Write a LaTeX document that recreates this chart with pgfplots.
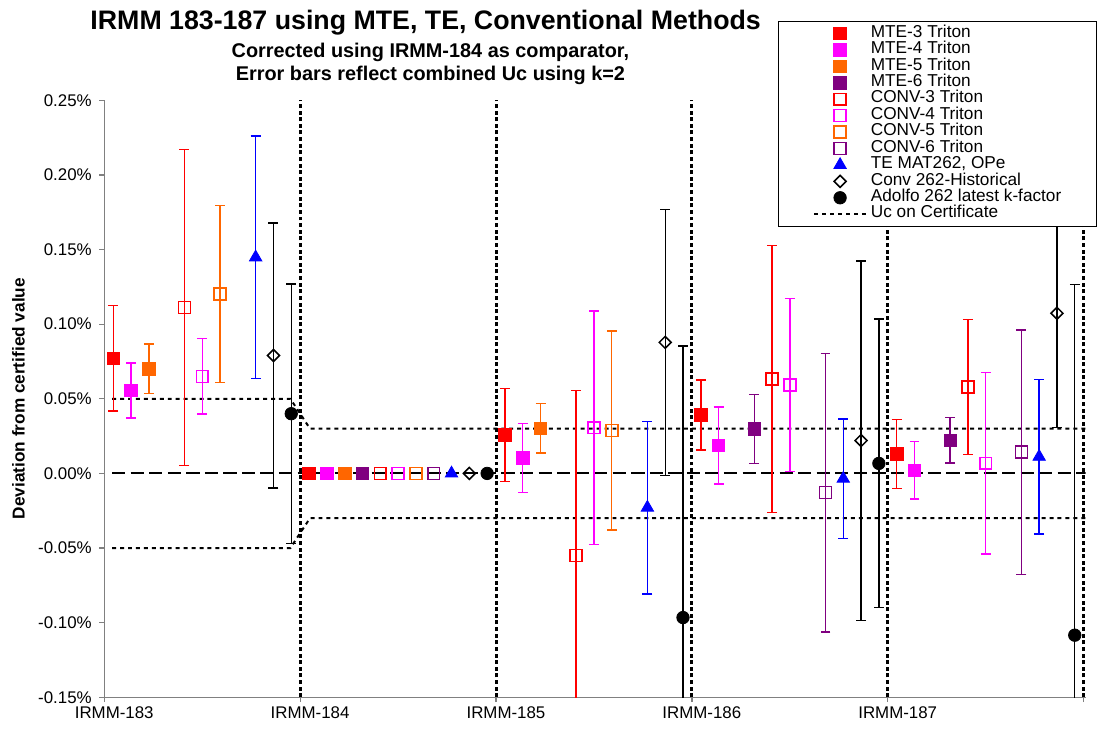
\documentclass[border=0pt]{standalone}
\usepackage{pgfplots}
\pgfplotsset{compat=1.18}
\usepackage{fontspec}
\setmainfont{Liberation Sans}
\definecolor{cMag}{RGB}{255,0,255}
\definecolor{cOr}{RGB}{255,102,0}
\definecolor{cPur}{RGB}{128,0,128}
\definecolor{cAx}{RGB}{128,128,128}
\pgfplotsset{
 eb/.style={error bars/y dir=both, error bars/y explicit,
   error bars/error bar style={line width=1.05pt},
   error bars/error mark options={rotate=90, mark size=3.75pt, line width=1.05pt}},
 fsq/.style={color=#1, only marks, mark=square*, mark size=4.7pt, line width=0.6pt, mark options={fill=#1, draw=#1, solid}},
 osq/.style={color=#1, only marks, mark=square, mark size=4.5pt, line width=1.15pt, mark options={draw=#1, solid}},
 tri/.style={color=blue, only marks, mark=triangle*, mark size=5.4pt, line width=0.6pt, mark options={fill=blue, solid}},
 dia/.style={color=black, only marks, mark=square, mark size=3.2pt, line width=1.15pt, mark options={rotate=45, solid, fill=white}},
 circ/.style={color=black, only marks, mark=*, mark size=4.7pt, line width=0.6pt, mark options={fill=black, solid}},
}
\begin{document}
\begin{tikzpicture}
\path (0pt,0pt) rectangle (823.5pt,552pt);
\begin{axis}[
  at={(78.75pt,25.5pt)}, anchor=south west,
  width=741pt, height=450.75pt, scale only axis,
  xmin=0, xmax=5.01, ymin=-0.15, ymax=0.25,
  axis x line=bottom, axis y line=left,
  axis line style={-, draw=cAx, line width=0.9pt},
  tick style={draw=cAx, line width=0.9pt},
  tick align=outside, major tick length=3.75pt,
  xtick={0,1,2,3,4,5},
  xticklabels={IRMM-183,IRMM-184,IRMM-185,IRMM-186,IRMM-187,{}},
  xticklabel style={xshift=7.5pt, font=\fontsize{12.75}{15}\selectfont},
  ytick={-0.15,-0.1,-0.05,0,0.05,0.1,0.15,0.2,0.25},
  yticklabel={\pgfmathprintnumber[fixed,fixed zerofill,precision=2]{\tick}\%},
  yticklabel style={xshift=-2.25pt, font=\fontsize{12.75}{15}\selectfont},
  /pgf/number format/assume math mode=true,
  legend style={at={(axis description cs:0.6862,1.1331)}, anchor=north west,
    draw=black, line width=0.75pt, fill=white,
    font=\fontsize{13}{15}\selectfont,
    inner xsep=26.5pt, inner ysep=3pt, row sep=0pt, column sep=3pt,
    nodes={inner sep=0pt, text height=9pt, text depth=3.4pt}},
  legend cell align=left,
  legend image code/.code={\draw[mark repeat=2,mark phase=2,#1] plot coordinates {(0pt,0pt) (19.5pt,0pt) (39pt,0pt)};},
]
% vertical separators
\addplot[forget plot, black, line width=2.2pt, dash pattern=on 3pt off 2pt] coordinates {(1,-0.15) (1,0.25)};
\addplot[forget plot, black, line width=2.2pt, dash pattern=on 3pt off 2pt] coordinates {(2,-0.15) (2,0.25)};
\addplot[forget plot, black, line width=2.2pt, dash pattern=on 3pt off 2pt] coordinates {(3,-0.15) (3,0.25)};
\addplot[forget plot, black, line width=2.2pt, dash pattern=on 3pt off 2pt] coordinates {(4,-0.15) (4,0.25)};
\addplot[forget plot, black, line width=2.2pt, dash pattern=on 3pt off 2pt] coordinates {(5,-0.15) (5,0.25)};
% zero line
\addplot[forget plot, black, line width=1.5pt, dash pattern=on 10pt off 4pt] coordinates {(0.04,0) (5.01,0)};
% Uc on certificate
\addplot[forget plot, black, line width=1.5pt, dash pattern=on 3pt off 3pt] coordinates {(0.04,0.05) (0.95,0.05) (1.05,0.03) (5.01,0.03)};
\addplot[forget plot, black, line width=1.5pt, dash pattern=on 3pt off 3pt] coordinates {(0.04,-0.05) (0.95,-0.05) (1.05,-0.03) (5.01,-0.03)};

% MTE-3
\addplot[fsq=red, eb] coordinates {(0.0455,0.0772) +- (0,0.0354) (2.0455,0.0257) +- (0,0.0310) (3.0455,0.0392) +- (0,0.0234) (4.0455,0.0130) +- (0,0.0232)};
\addlegendentry{MTE-3 Triton}
% MTE-4
\addplot[fsq=cMag, eb] coordinates {(0.1364,0.0555) +- (0,0.0184) (2.1364,0.0103) +- (0,0.0230) (3.1364,0.0186) +- (0,0.0258) (4.1364,0.0021) +- (0,0.0193)};
\addlegendentry{MTE-4 Triton}
% MTE-5
\addplot[fsq=cOr, eb] coordinates {(0.2273,0.0701) +- (0,0.0167) (2.2273,0.0303) +- (0,0.0165)};
\addlegendentry{MTE-5 Triton}
% MTE-6
\addplot[fsq=cPur, eb] coordinates {(3.3182,0.0297) +- (0,0.0232) (4.3182,0.0221) +- (0,0.0152)};
\addlegendentry{MTE-6 Triton}
% CONV-3
\addplot[osq=red, eb] coordinates {(0.4091,0.1111) +- (0,0.1060) (2.4091,-0.0549) +- (0,0.1105) (3.4091,0.0632) +- (0,0.0894) (4.4091,0.0580) +- (0,0.0452)};
\addlegendentry{CONV-3 Triton}
% CONV-4
\addplot[osq=cMag, eb] coordinates {(0.5,0.0650) +- (0,0.0253) (2.5,0.0306) +- (0,0.0782) (3.5,0.0592) +- (0,0.0579) (4.5,0.0068) +- (0,0.0608)};
\addlegendentry{CONV-4 Triton}
% CONV-5
\addplot[osq=cOr, eb] coordinates {(0.5909,0.1202) +- (0,0.0593) (2.5909,0.0287) +- (0,0.0666)};
\addlegendentry{CONV-5 Triton}
% CONV-6
\addplot[osq=cPur, eb] coordinates {(3.6818,-0.0129) +- (0,0.0934) (4.6818,0.0142) +- (0,0.0818)};
\addlegendentry{CONV-6 Triton}
% TE MAT262
\addplot[tri, eb] coordinates {(0.7727,0.1448) +- (0,0.0813) (2.7727,-0.0229) +- (0,0.0578) (3.7727,-0.0035) +- (0,0.0400) (4.7727,0.0112) +- (0,0.0518)};
\addlegendentry{TE MAT262, OPe}
% Conv 262 historical
\addplot[dia, eb] coordinates {(0.8636,0.0790) +- (0,0.0889) (2.8636,0.0878) +- (0,0.0892) (3.8636,0.0220) +- (0,0.1204) (4.8636,0.1073) +- (0,0.0767)};
\addlegendentry{Conv 262-Historical}
% Adolfo
\addplot[circ, eb] coordinates {(0.9545,0.0400) +- (0,0.0870) (2.9545,-0.0966) +- (0,0.1820) (3.9545,0.0067) +- (0,0.0967) (4.9545,-0.1084) +- (0,0.2350)};
\addlegendentry{Adolfo 262 latest k-factor}
\addlegendimage{black, line width=1.5pt, dash pattern=on 3pt off 3pt}
\addlegendentry{Uc on Certificate}

% IRMM-184 comparator points (no error bars)
\addplot[forget plot, fsq=red] coordinates {(1.0455,0)};
\addplot[forget plot, fsq=cMag] coordinates {(1.1364,0)};
\addplot[forget plot, fsq=cOr] coordinates {(1.2273,0)};
\addplot[forget plot, fsq=cPur] coordinates {(1.3182,0)};
\addplot[forget plot, osq=red] coordinates {(1.4091,0)};
\addplot[forget plot, osq=cMag] coordinates {(1.5,0)};
\addplot[forget plot, osq=cOr] coordinates {(1.5909,0)};
\addplot[forget plot, osq=cPur] coordinates {(1.6818,0)};
\addplot[forget plot, tri] coordinates {(1.7727,0)};
\addplot[forget plot, dia] coordinates {(1.8636,0)};
\addplot[forget plot, circ] coordinates {(1.9545,0)};
\end{axis}
\node[anchor=base, font=\bfseries\fontsize{20.2}{24}\selectfont] at (321.4pt,529.9pt) {IRMM 183-187 using MTE, TE, Conventional Methods};
\node[anchor=base, font=\bfseries\fontsize{15}{18}\selectfont] at (325pt,508.5pt) {Corrected using IRMM-184 as comparator,};
\node[anchor=base, font=\bfseries\fontsize{15}{18}\selectfont] at (325pt,491.25pt) {Error bars reflect combined Uc using k=2};
\node[rotate=90, font=\bfseries\fontsize{13}{15}\selectfont] at (14pt,251pt) {Deviation from certified value};
\end{tikzpicture}
\end{document}
